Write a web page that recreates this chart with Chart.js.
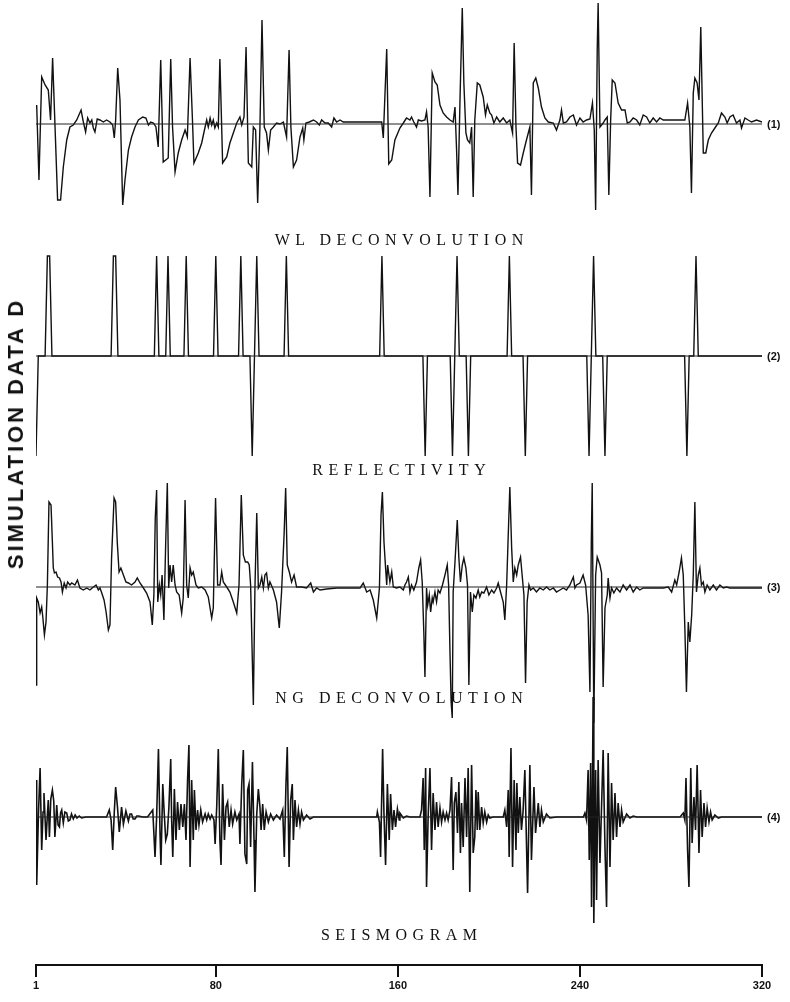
<!DOCTYPE html>
<html>
<head>
<title>Simulation data D</title>
<script src="https://cdn.jsdelivr.net/npm/chart.js"></script>
<style>
  body { margin: 0; background: #fff; }
  #wrap { position: relative; width: 790px; height: 1002px; }
  .title {
    position: absolute; transform: translate(-50%, -50%);
    font-family: "Liberation Serif", "DejaVu Serif", serif; font-size: 16px;
    letter-spacing: 5.5px; padding-left: 5.5px; white-space: nowrap; color: #111;
  }
  .tag {
    position: absolute; transform: translateY(-50%);
    font: bold 11px "Liberation Sans", Arial, sans-serif; color: #111;
  }
  #ylab {
    position: absolute; left: 16px; top: 435px;
    transform: translate(-50%, -50%) rotate(-90deg);
    font: bold 22px "Liberation Sans", Arial, sans-serif; letter-spacing: 3px;
    padding-left: 3px; white-space: nowrap; color: #111;
  }
</style>
</head>
<body>
<div id="wrap">
  <canvas id="traces" width="790" height="1002"></canvas>
  <div id="ylab">SIMULATION DATA D</div>
</div>

<script>
// sample axis
const tickLabels = [1, 80, 160, 240, 320];
const traceNames = ['WL DECONVOLUTION', 'REFLECTIVITY', 'NG DECONVOLUTION', 'SEISMOGRAM'];
const traceTags = ['(1)', '(2)', '(3)', '(4)'];

// reflectivity spikes: sample number and amplitude
const reflPos = [1, 6, 7, 35, 36, 54, 59, 67, 80, 91, 96, 98, 111, 153, 172, 184, 186, 191, 209, 216, 244, 246, 251, 287, 291];
const reflAmp = [-1, 1, 1, 1, 1, 1, 1, 1, 1, 1, -1, 1, 1, 1, -1, -1, 1, -1, 1, -1, -1, 1, -1, -1, 1];

// (1) WL deconvolution, [sample, amplitude]
const wlTrace = [
  [1,0.17],[1.3,0.19],[2.3,-0.56],[3.5,0.47],[5,0.39],[6.4,0.34],[7.4,0.04],[8.3,0.66],[10.5,-0.76],[11.8,-0.76],
  [13,-0.43],[14.5,-0.16],[15.9,-0.03],[17.4,-0.01],[18.9,0.04],[20.8,0.14],[21.8,0.02],[22.8,-0.08],[23.7,0.06],[24.7,0.01],
  [25.5,0.04],[26.2,-0.04],[26.9,-0.08],[27.9,0.05],[29.1,0.04],[30.6,0.02],[32,0.04],[33.5,0.02],[34.7,-0.01],[35.4,-0.14],
  [36,0.04],[36.9,0.56],[37.9,0.24],[39.1,-0.81],[40.1,-0.56],[41.6,-0.26],[43,-0.13],[44.5,-0.03],[46,0.04],[47.9,0.07],
  [49.3,0.06],[50.4,-0.01],[51.4,0.02],[52.6,0.01],[53.7,-0.03],[54.7,-0.23],[55.8,0.64],[56.9,-0.38],[59.1,-0.34],[60.2,0.65],
  [61,-0.03],[62.1,-0.48],[63.5,-0.29],[65,-0.16],[66.5,-0.06],[67.5,-0.13],[68.7,0.66],[69.7,0.07],[70.4,-0.39],[72.3,-0.29],
  [73.8,-0.19],[75.3,-0.03],[76,0.04],[76.7,-0.03],[77.5,0.06],[78.2,-0.01],[78.9,0.04],[79.6,-0.04],[80.4,0.01],[81.1,-0.03],
  [81.8,0.65],[83,-0.39],[84.8,-0.33],[86.2,-0.19],[87.7,-0.09],[89.2,0.01],[89.9,0.04],[90.6,0.07],[91.4,-0.01],[92.4,0.07],
  [93.3,0.77],[94.3,-0.39],[95.8,-0.43],[96.5,-0.03],[97.5,-0.06],[98.4,-0.79],[99.4,-0.03],[100.3,1.04],[101.3,-0.03],[102.3,-0.09],
  [103.1,-0.26],[104.1,-0.06],[105.3,-0.03],[106.7,0.01],[108.2,0],[109.7,0.02],[111.1,-0.13],[112.2,0.74],[113,-0.03],[114.1,-0.43],
  [115.5,-0.36],[117,-0.13],[118.2,-0.04],[118.7,-0.16],[119.6,0.01],[121.1,0.02],[122.9,0.04],[124.3,0.02],[125.5,-0.01],[126.5,0.04],
  [128,0.01],[129.4,0.01],[130.9,-0.03],[131.9,0.06],[133.1,0.02],[134.6,0.04],[136,0.02],[140.4,0.02],[152.9,0.02],[153.6,-0.14],
  [155.1,0.75],[156,-0.40],[157.3,-0.36],[158.7,-0.16],[160.9,-0.04],[162.4,0.01],[163.8,0.06],[165.3,0.04],[166,0.07],[167,0.02],
  [168.2,-0.03],[169,0.04],[170.4,0.03],[171.9,0.04],[172.6,0.12],[173.3,-0.03],[174.1,-0.73],[175.1,0.51],[176.3,0.42],[177.3,0.39],
  [178.5,0.19],[179.9,0.11],[181.4,0.07],[182.9,0.04],[184.3,0.02],[185.1,0.17],[185.8,-0.26],[186.4,-0.71],[187.3,0.24],[188.3,1.16],
  [189,0.41],[189.9,-0.09],[190.6,-0.16],[191.6,-0.19],[192.4,-0.03],[193.1,-0.73],[193.8,0.04],[194.9,0.41],[196,0.39],[197.5,0.27],
  [198.5,0.09],[199.3,0.19],[200.4,0.11],[201.2,0.09],[202.2,0.01],[203.4,0.07],[204.8,0.02],[206.3,0.06],[207.8,0.01],[209.2,0.04],
  [210.4,-0.09],[211.1,0.81],[211.9,-0.03],[212.6,-0.39],[213.9,-0.41],[215.1,-0.29],[216.5,-0.16],[218,-0.03],[218.7,-0.71],[219.5,0.41],
  [220.6,0.46],[221.7,0.36],[223.1,0.17],[224.6,0.06],[226.1,0.02],[228.3,0.01],[229.7,-0.06],[231.2,0.04],[231.9,0.14],[232.7,0.01],
  [234.1,0.02],[235.6,0.07],[237.1,0.09],[238.5,-0.01],[240,0.06],[241.4,0.02],[242.9,0.04],[244.4,0.05],[245.5,0.21],[246.3,-0.06],
  [246.9,-0.86],[247.6,0.74],[248,1.21],[248.8,-0.03],[250.2,0.01],[251,0.04],[252,0.07],[252.7,-0.71],[253.5,0.04],[254.2,0.44],
  [255.4,0.41],[256.8,0.21],[258.3,0.14],[259.8,0.14],[260.8,0.01],[262,0.02],[263.4,0.06],[264.9,0.04],[266.3,-0.01],[267.8,0.09],
  [269.3,0.07],[270.7,0.01],[272.2,0.06],[273.7,0.02],[275.1,0.06],[276.6,0.04],[278.1,0.04],[282.5,0.04],[286.1,0.04],[287.3,0.21],
  [288.3,-0.03],[289,-0.69],[289.8,0.31],[290.5,0.46],[291.5,0.41],[292.3,0.24],[293.1,0.97],[294.2,-0.29],[295.3,-0.29],[296.4,-0.16],
  [297.8,-0.09],[299.3,-0.04],[300.8,0.01],[302.2,0.11],[303.7,0.07],[304.7,0.01],[305.9,0.07],[307.3,0.09],[308.8,0.01],[310.3,0.04],
  [311,-0.04],[312.5,0.06],[313.9,0.04],[315.4,0.02],[317.6,0.04],[320,0.02]
];

// (3) NG deconvolution
const ngTrace = [
  [1,-0.98],[1.3,-0.11],[2,-0.15],[2.8,-0.26],[3.5,-0.20],[3.9,-0.28],[4.7,-0.48],[5.4,-0.35],[6,0.02],[6.7,0.85],
  [7.6,0.82],[8.2,0.45],[8.6,0.19],[9.1,0.14],[9.8,0.15],[10.5,0.10],[11.3,0.09],[12,0.05],[12.6,-0.05],[13.4,0.04],
  [14.2,-0.01],[14.9,0.05],[15.9,0.02],[16.7,0.04],[18.1,0.02],[19.2,0.07],[20.3,-0.01],[21.8,-0.03],[23.3,-0.01],[24.7,-0.03],
  [26.2,0],[27.4,0.02],[28.4,-0.03],[29.1,-0.01],[29.9,-0.06],[30.9,-0.13],[31.8,-0.25],[32.8,-0.43],[33.5,-0.38],[34.2,0.29],
  [35.3,0.89],[36,0.85],[36.7,0.45],[37.5,0.15],[38.3,0.19],[39.4,0.12],[40.5,0.05],[41.6,0.04],[43,0.02],[44.5,0.05],
  [45.5,0.09],[46.7,0.04],[48.2,-0.01],[49.6,-0.06],[51.1,-0.15],[52.1,-0.38],[52.8,-0.08],[53.4,0.69],[54,0.97],[54.5,-0.15],
  [55.2,0.02],[55.8,-0.08],[56.4,0.12],[57.2,-0.33],[58,0.45],[58.7,1.04],[59.3,-0.01],[59.9,0.22],[60.6,0.05],[61.3,0.22],
  [62.1,0.02],[62.8,-0.05],[63.9,-0.08],[65,-0.26],[65.7,-0.11],[66.5,0.87],[67.2,0.02],[67.9,-0.11],[68.7,0.19],[69.4,0.12],
  [70.1,0.15],[71.3,0.02],[72.3,-0.01],[73.8,0],[75.3,-0.03],[76.7,-0.10],[78.2,-0.31],[78.9,-0.21],[79.9,0.89],[80.8,0.02],
  [81.8,0.02],[82.6,0.15],[83.3,0.05],[84.8,0],[86.2,-0.05],[87.7,-0.15],[89.2,-0.26],[90.2,0.02],[91.2,0.92],[92.1,0.32],
  [93,0.25],[94,0.25],[94.7,0.22],[95.3,0.02],[96,-0.68],[96.5,-1.18],[97.2,-0.01],[98,0.74],[98.7,-0.01],[99.4,0.02],
  [100.2,0.10],[100.9,-0.01],[101.6,0.12],[102.3,0.14],[103.1,-0.01],[103.8,0.05],[105.3,-0.03],[106.7,-0.15],[107.9,-0.41],[108.9,-0.05],
  [110,0.52],[110.7,0.99],[111.4,0.22],[112.3,0.15],[113.3,0.05],[114.4,0.12],[115.5,0],[117.7,0],[119.9,-0.01],[121.7,0.04],
  [122.9,-0.05],[124.3,-0.01],[125.8,-0.03],[128.7,-0.02],[133.1,-0.01],[140.4,-0.01],[143.4,-0.01],[144.8,0.04],[146.3,-0.05],[147.8,-0.03],
  [149.2,-0.13],[150.7,-0.31],[151.9,-0.01],[152.6,0.72],[153.2,0.95],[153.9,0.45],[154.6,0.19],[155.1,0.02],[155.5,0.22],[156.5,0.05],
  [157.3,0.15],[158,0],[159.4,-0.01],[160.9,0],[162.4,-0.03],[163.1,0.02],[163.8,0.05],[164.6,0.10],[165.3,-0.05],[166,0.02],
  [167,-0.03],[168.2,0.05],[169.2,0.19],[170,0.27],[170.7,0.05],[171.4,-0.45],[171.9,-0.90],[172.6,-0.01],[173.1,-0.18],[173.8,-0.08],
  [174.4,-0.25],[175.1,-0.11],[175.5,-0.15],[176.3,-0.05],[177,-0.15],[177.7,-0.03],[178.5,-0.06],[179.6,0.02],[180.7,0.12],[181.7,0.22],
  [182.3,0.02],[182.9,-0.65],[183.4,-1.15],[183.9,-1.31],[184.3,-0.05],[185.1,0.25],[186.1,0.67],[186.8,0.29],[187.5,0.05],[188.3,0.22],
  [189,0.29],[189.9,0.19],[190.6,0.02],[191.2,-0.98],[191.9,-0.05],[192.7,-0.25],[193.4,-0.08],[194.3,-0.11],[195.3,-0.03],[196,-0.10],
  [196.8,-0.05],[197.8,-0.06],[199,0],[200,-0.08],[201.2,-0.03],[202.2,-0.06],[203.4,-0.01],[204.1,0.04],[205.1,-0.05],[206.3,-0.15],
  [207,-0.33],[207.8,0.02],[208.5,0.52],[209.2,1.00],[210,0.39],[210.7,0.05],[211.4,0.19],[212.2,0.12],[212.9,0.22],[213.9,0.30],
  [214.6,0.12],[215.4,-0.08],[216.1,-0.96],[216.8,-0.15],[217.6,0.02],[218.3,-0.03],[219.5,-0.01],[220.9,-0.05],[222.4,-0.01],[223.9,-0.03],
  [225.3,0],[226.8,-0.03],[228.3,-0.01],[229.7,-0.05],[231.2,-0.03],[232.7,-0.01],[234.1,-0.03],[235.6,0.02],[237.1,0.10],[237.8,-0.01],
  [238.5,0.02],[240,0.04],[241.4,0.12],[242.5,0.02],[243.6,-0.28],[244.4,-1.05],[245,0.45],[245.4,1.04],[246.1,-1.36],[246.9,0.12],
  [247.6,0.30],[248.8,0.22],[249.5,0.14],[250.2,-1.00],[251,-0.21],[252,-0.08],[252.4,0.09],[253.2,-0.11],[253.9,-0.01],[254.9,-0.06],
  [256.1,-0.01],[257.6,-0.05],[259,0.02],[260.5,-0.03],[262,0.02],[263.4,-0.05],[264.9,0],[266.3,-0.03],[267.8,-0.01],[270.7,-0.01],
  [273.7,-0.01],[276.6,-0.01],[278.8,0],[280.3,-0.05],[281.7,0.07],[282.5,0.02],[283.6,0.15],[284.6,0.29],[285.4,0.12],[286.1,-0.41],
  [286.8,-1.05],[287.6,-0.35],[288.3,-0.55],[289.1,-0.28],[289.8,0.12],[290.5,0.85],[291.2,-0.05],[292,0.12],[292.7,0.19],[293.4,0.02],
  [294.2,0.05],[294.9,-0.05],[295.9,0.02],[297.1,-0.03],[298.6,0.02],[300,-0.03],[301.5,0.02],[303,-0.01],[304.4,0],[305.9,-0.01],
  [310.3,-0.01],[320,-0.01]
];

// (4) seismogram
const seisTrace = [
  [1,0.37],[1.3,-0.68],[2.1,0.05],[2.8,0.49],[3.5,-0.33],[4.1,0.05],[4.5,0.24],[5.4,-0.23],[6,0.02],[6.4,0.17],
  [6.9,-0.2],[7.5,0.18],[8.2,0.27],[8.8,0.16],[9.3,-0.2],[9.7,-0.05],[10.1,0.12],[10.7,-0.08],[11.3,-0.1],[11.8,0.04],
  [12.3,0.07],[13,-0.06],[13.7,0.05],[14.5,0.04],[15.2,-0.04],[15.9,-0.03],[16.6,0.03],[17.4,-0.02],[18.2,0.02],[19,-0.01],
  [20,0.01],[21,-0.01],[23,0],[32,0],[33.2,0.07],[34,-0.03],[34.7,-0.33],[35.4,0.05],[36,0.30],[36.8,0.1],
  [37.6,-0.15],[38.6,0.1],[39.4,-0.07],[40.5,0.06],[41.6,-0.04],[42.3,0.03],[43,0.03],[43.7,-0.02],[44.5,-0.02],[45.3,0.01],
  [46,0.01],[48,0],[50,0],[52.3,0.07],[53.3,-0.40],[54,0],[54.8,0.68],[55.5,-0.17],[55.9,-0.48],[56.7,0.33],
  [57.2,0.10],[58,-0.23],[58.7,-0.17],[59.4,0.10],[60.2,0.58],[60.6,-0.03],[61.1,-0.40],[61.8,0.28],[62.5,-0.23],[63.2,0.15],
  [64,-0.13],[64.7,0.13],[65.5,-0.10],[66.2,0.13],[66.9,-0.23],[67.6,0.37],[68.2,0.72],[68.7,-0.50],[69.4,0.37],[70.1,-0.23],
  [70.6,0.27],[71.3,-0.13],[72,0.07],[72.6,-0.08],[73.4,0.07],[74.2,-0.05],[75.3,0.03],[76,-0.03],[76.7,0.03],[77.5,-0.02],
  [78.2,0.02],[79.2,-0.03],[79.7,-0.27],[80.4,0.10],[81.1,0.68],[81.8,-0.23],[82.3,-0.48],[83,0.33],[83.8,-0.23],[84.5,0.1],
  [85.2,0.15],[85.9,-0.1],[86.7,0.07],[87.4,-0.07],[88.4,0.05],[89.2,-0.03],[90.2,0.03],[90.6,-0.27],[91.4,0.33],[92.1,0.67],
  [92.8,-0.37],[93.6,-0.47],[94,0.27],[94.6,0.33],[95.3,-0.30],[96.1,0.55],[96.8,-0.23],[97.2,-0.75],[98,0.03],[98.7,0.28],
  [99.4,0.10],[99.9,-0.13],[100.6,0.13],[101.3,-0.13],[102.1,0.05],[103.1,-0.05],[104.1,0.03],[105.3,-0.03],[106.7,0.02],[108.2,-0.02],
  [109.4,0.07],[110.1,-0.40],[110.8,0.30],[111.4,0.70],[112.2,-0.50],[112.9,0.17],[113.6,0.33],[114.1,-0.23],[114.8,0.17],[115.5,-0.10],
  [116.3,0.07],[117,-0.07],[117.7,0.05],[118.5,-0.03],[119.9,0.02],[121.4,-0.02],[122.9,0],[126,0],[150.7,0],[151,0.05],
  [151.9,-0.05],[152.4,-0.40],[153.3,0.68],[153.9,0.03],[154.6,-0.48],[155.4,0.33],[156.2,-0.23],[156.8,0.23],[157.6,-0.13],[158.3,0.07],
  [159,-0.10],[159.8,0.08],[160.6,-0.03],[160.9,0.04],[162.4,-0.01],[163.8,0.01],[165.3,0],[169.7,0],[170.4,0.07],[171.1,0.39],
  [171.6,-0.33],[172.2,0.49],[172.6,-0.70],[173.3,0],[174.1,0.49],[174.8,-0.33],[175.5,0.24],[176.3,-0.13],[177,0.15],[177.7,-0.10],
  [178.5,0.09],[179.2,-0.05],[179.9,0.05],[180.7,-0.03],[181.4,0.04],[182.1,-0.03],[182.9,0.07],[183.6,0.40],[184.3,-0.53],[184.8,0.14],
  [185.5,0.25],[186.2,-0.16],[186.8,0.35],[187.5,-0.36],[188,0.14],[188.7,-0.30],[189.5,0.39],[190.2,-0.20],[190.9,0.49],[191.6,-0.75],
  [192.4,0.52],[193.1,-0.36],[193.8,-0.20],[194.3,0.27],[194.9,-0.13],[195.3,0.25],[196,-0.13],[196.8,0.10],[197.5,-0.06],[198.2,0.05],
  [199,-0.05],[199.7,0.02],[200.4,-0.01],[201.9,0],[206.3,0],[207,0.07],[207.8,-0.10],[208.5,0.27],[208.9,-0.40],[209.7,0.69],
  [210.4,-0.50],[211.1,0.37],[211.9,-0.33],[212.3,0.34],[212.9,-0.16],[213.6,0.20],[214.3,-0.13],[215,0.05],[215.8,0.47],[217,-0.76],
  [218,0.52],[218.7,-0.43],[219.8,0.30],[220.5,-0.16],[221.7,0.14],[222.4,-0.10],[223.1,0.07],[223.9,-0.05],[225.3,0.03],[226.8,-0.01],
  [229.7,0],[241.5,0],[242.2,0.04],[242.9,-0.03],[243.6,0.47],[244.1,-0.43],[244.7,0.54],[245.1,-0.90],[245.8,1.20],[246.1,-1.06],
  [246.9,0.47],[247.3,-0.83],[248,0.57],[248.8,-0.46],[250.2,0.67],[251,-0.30],[251.7,-0.90],[252.4,0.64],[253.2,-0.50],[253.9,0.34],
  [254.6,-0.23],[255.4,0.24],[256.1,-0.20],[256.8,0.14],[257.6,-0.10],[258.3,0.07],[259,-0.05],[260.5,0.03],[262,-0.01],[263.4,0.01],
  [265,0],[284,0],[285.4,0.04],[286.1,-0.03],[286.6,0.39],[287.3,-0.33],[287.9,-0.70],[288.7,0.49],[289.3,-0.26],[290.1,0.20],
  [290.8,-0.13],[291.5,0.52],[292.3,-0.36],[293,0.27],[293.7,-0.20],[294.5,0.14],[295.2,-0.10],[295.9,0.09],[296.7,-0.05],[297.4,0.05],
  [298.1,-0.03],[299.3,0.02],[300.8,-0.01],[302.2,0],[320,0]
];

// layout: zero line of each trace (y units, 1 unit = 100px) and title rows in px
const baselines = [-1.24, -3.56, -5.87, -8.17];
const titleRows = [240, 470, 698, 935];
const tagRows = [124, 356, 587, 817];

// reflectivity as a full sample series
const reflTrace = [];
for (let s = 1; s <= 320; s++) {
  const k = reflPos.indexOf(s);
  reflTrace.push([s, k >= 0 ? reflAmp[k] : 0]);
}

const traces = [wlTrace, reflTrace, ngTrace, seisTrace];

const datasets = [];
traces.forEach((tr, i) => {
  const off = baselines[i];
  datasets.push({
    data: [{x: 1, y: off}, {x: 320, y: off}],
    borderColor: '#222', borderWidth: 1.2
  });
  datasets.push({
    data: tr.map(p => ({x: p[0], y: off + p[1]})),
    borderColor: '#111', borderWidth: i === 3 ? 1.6 : 1.4
  });
});

const wrap = document.getElementById('wrap');
traceNames.forEach((name, i) => {
  const t = document.createElement('div');
  t.className = 'title';
  t.textContent = name;
  t.style.left = '399px';
  t.style.top = titleRows[i] + 'px';
  wrap.appendChild(t);

  const g = document.createElement('div');
  g.className = 'tag';
  g.textContent = traceTags[i];
  g.style.left = '767px';
  g.style.top = tagRows[i] + 'px';
  wrap.appendChild(g);
});

const ctx = document.getElementById('traces').getContext('2d');
new Chart(ctx, {
  type: 'line',
  data: { datasets: datasets },
  options: {
    responsive: false,
    animation: false,
    layout: { padding: { left: 36, right: 28, top: 0, bottom: 0 } },
    plugins: { legend: { display: false }, tooltip: { enabled: false } },
    elements: { point: { radius: 0 }, line: { tension: 0 } },
    scales: {
      x: {
        type: 'linear', min: 1, max: 320,
        afterBuildTicks: (s) => { s.ticks = tickLabels.map(v => ({ value: v })); },
        afterFit: (s) => { s.height = 37; },
        grid: { drawOnChartArea: false, drawTicks: true, tickLength: 12, color: '#111', lineWidth: 2 },
        border: { display: true, color: '#111', width: 2 },
        ticks: {
          color: '#111', padding: 2, maxRotation: 0, autoSkip: false,
          font: { family: 'Liberation Sans', weight: 'bold', size: 11 }
        }
      },
      y: { display: false, min: -9.65, max: 0 }
    }
  }
});
</script>
</body>
</html>
